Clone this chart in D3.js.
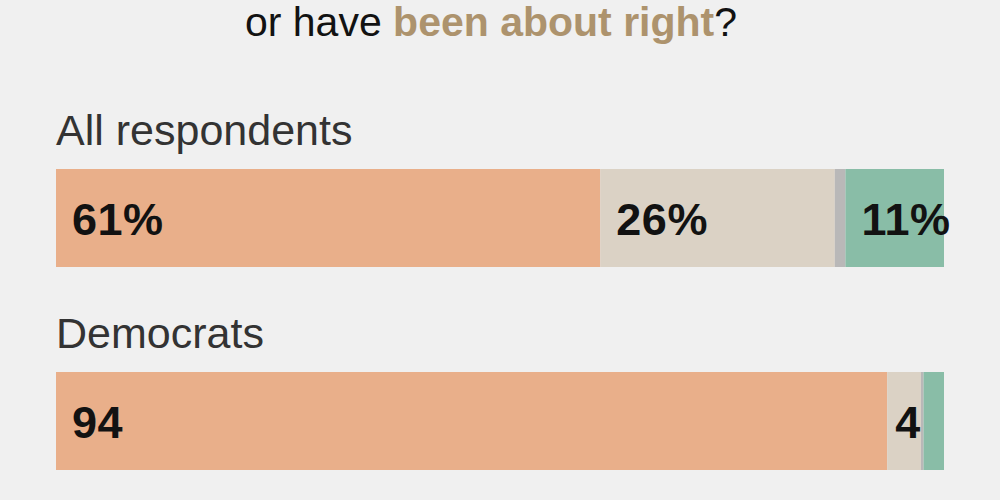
<!DOCTYPE html>
<meta charset="utf-8">
<body>
<script src="https://cdn.jsdelivr.net/npm/d3@7"></script>
<style>
    html, body {
        margin: 0;
        background: #f0f0f0;
    }
    svg { display: block; }
</style>
<script>
var width = 1000,
    height = 500;

var groups = ["All respondents", "Democrats"];
var answers = ["Too far", "About right", "No answer", "Not far enough"];
var allValues = [61.3, 26.4, 1.2, 11.1];
var demValues = [93.6, 3.8, 0.3, 2.3];
var allLabels = ["61%", "26%", "", "11%"];
var demLabels = ["94", "4", "", ""];
var colors = ["#e9af8a", "#dbd2c5", "#b9b8b8", "#89bda7"];

var rows = [
    {name: groups[0], values: allValues, labels: allLabels},
    {name: groups[1], values: demValues, labels: demLabels}
];

var svg = d3.select("body").append("svg")
    .attr("width", width)
    .attr("height", height)
    .style("background", "#f0f0f0");

var x = d3.scaleLinear().domain([0, 100]).range([56, 944]);
var y = d3.scaleLinear().domain([0, 1]).range([169, 372]);
var barH = 98;
var color = d3.scaleOrdinal().domain(answers).range(colors);

// title (top line cut off in the original)
var title = svg.append("text")
    .attr("x", 491)
    .attr("y", 36)
    .attr("text-anchor", "middle")
    .style("font-family", "'Liberation Sans', Arial, sans-serif")
    .style("font-size", "41px")
    .style("fill", "#121212");
title.append("tspan").text("or have ");
title.append("tspan").text("been about right")
    .style("font-weight", "bold")
    .style("fill", "#ad936d");
title.append("tspan").text("?");

var row = svg.selectAll("g.row")
    .data(rows)
    .enter().append("g")
    .attr("class", "row")
    .attr("transform", function(d, i) { return "translate(0," + y(i) + ")"; });

row.append("text")
    .attr("x", 56)
    .attr("y", -24)
    .style("font-family", "'Liberation Sans', Arial, sans-serif")
    .style("font-size", "43px")
    .style("fill", "#333")
    .text(function(d) { return d.name; });

var seg = row.selectAll("g.seg")
    .data(function(d) {
        var acc = 0;
        return d.values.map(function(v, j) {
            var s = {start: acc, value: v, label: d.labels[j], answer: answers[j]};
            acc += v;
            return s;
        });
    })
    .enter().append("g")
    .attr("class", "seg");

seg.append("rect")
    .attr("x", function(d) { return x(d.start); })
    .attr("width", function(d) { return x(d.start + d.value) - x(d.start); })
    .attr("height", barH)
    .attr("fill", function(d) { return color(d.answer); });

seg.append("text")
    .attr("x", function(d) {
        var w = x(d.start + d.value) - x(d.start);
        return x(d.start) + (w > 60 ? 16 : 8);
    })
    .attr("y", 66)
    .style("font-family", "'Liberation Sans', Arial, sans-serif")
    .style("font-size", "45px")
    .style("font-weight", "bold")
    .style("letter-spacing", "0.5px")
    .style("fill", "#121212")
    .text(function(d) { return d.label; });
</script>
